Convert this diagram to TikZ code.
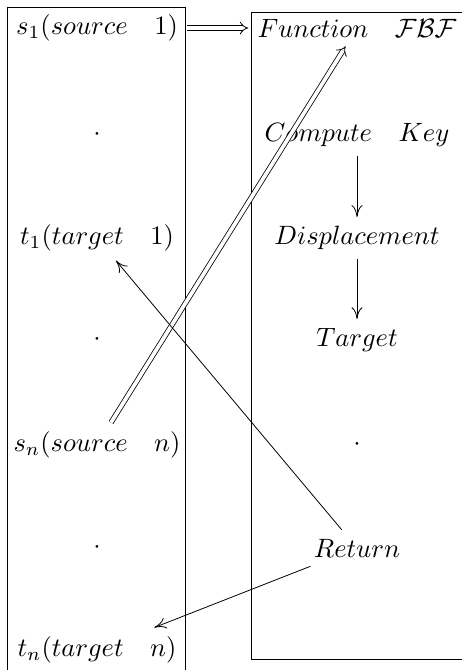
\documentclass[tikz,border=0pt]{standalone}
\usepackage{amsmath,amssymb}
\usetikzlibrary{arrows.meta}

\begin{document}
\begin{tikzpicture}[x=0.377pt,y=-0.377pt,line width=0.3pt,
  map/.style={-{Computer Modern Rightarrow[length=4.5pt,width=4.2pt]}},
  dmap/.style={-{Implies},double,double distance=1.4pt},
  frame/.style={line width=0.3pt}]
\useasboundingbox (0,0) rectangle (462,670);
\clip (0,0) rectangle (462,670);

\draw[frame] (7,690) -- (7,7) -- (185,7) -- (185,690);
\draw[frame] (480,12) -- (251,12) -- (251,659) -- (480,659);

\node (S1) at (97,28) {$s_1(source\quad 1)$};
\node (L1) at (97,135) {$\cdot$};
\node (T1) at (97,238) {$t_1(target\quad 1)$};
\node (L2) at (97,340) {$\cdot$};
\node (Sn) at (97,445) {$s_n(source\quad n)$};
\node (L3) at (97,548) {$\cdot$};
\node (Tn) at (97,650) {$t_n(target\quad n)$};

\node (F) at (357,28) {$Function\quad \mathcal{FBF}$};
\node (K) at (357,135) {$Compute\quad Key$};
\node (D) at (357,238) {$Displacement$};
\node (T) at (357,340) {$Target$};
\node (R1) at (357,445) {$\cdot$};
\node (R) at (357,548) {$Return$};

\draw[dmap] (S1) -- (F);
\draw[dmap] (Sn) -- (F);
\path[map] (K) edge [] node[]{} (D);
\path[map] (D) edge [] node[]{} (T);
\path[map] (R) edge [] node[]{} (T1);
\path[map] (R) edge [] node[]{} (Tn);

\end{tikzpicture}
\end{document}
